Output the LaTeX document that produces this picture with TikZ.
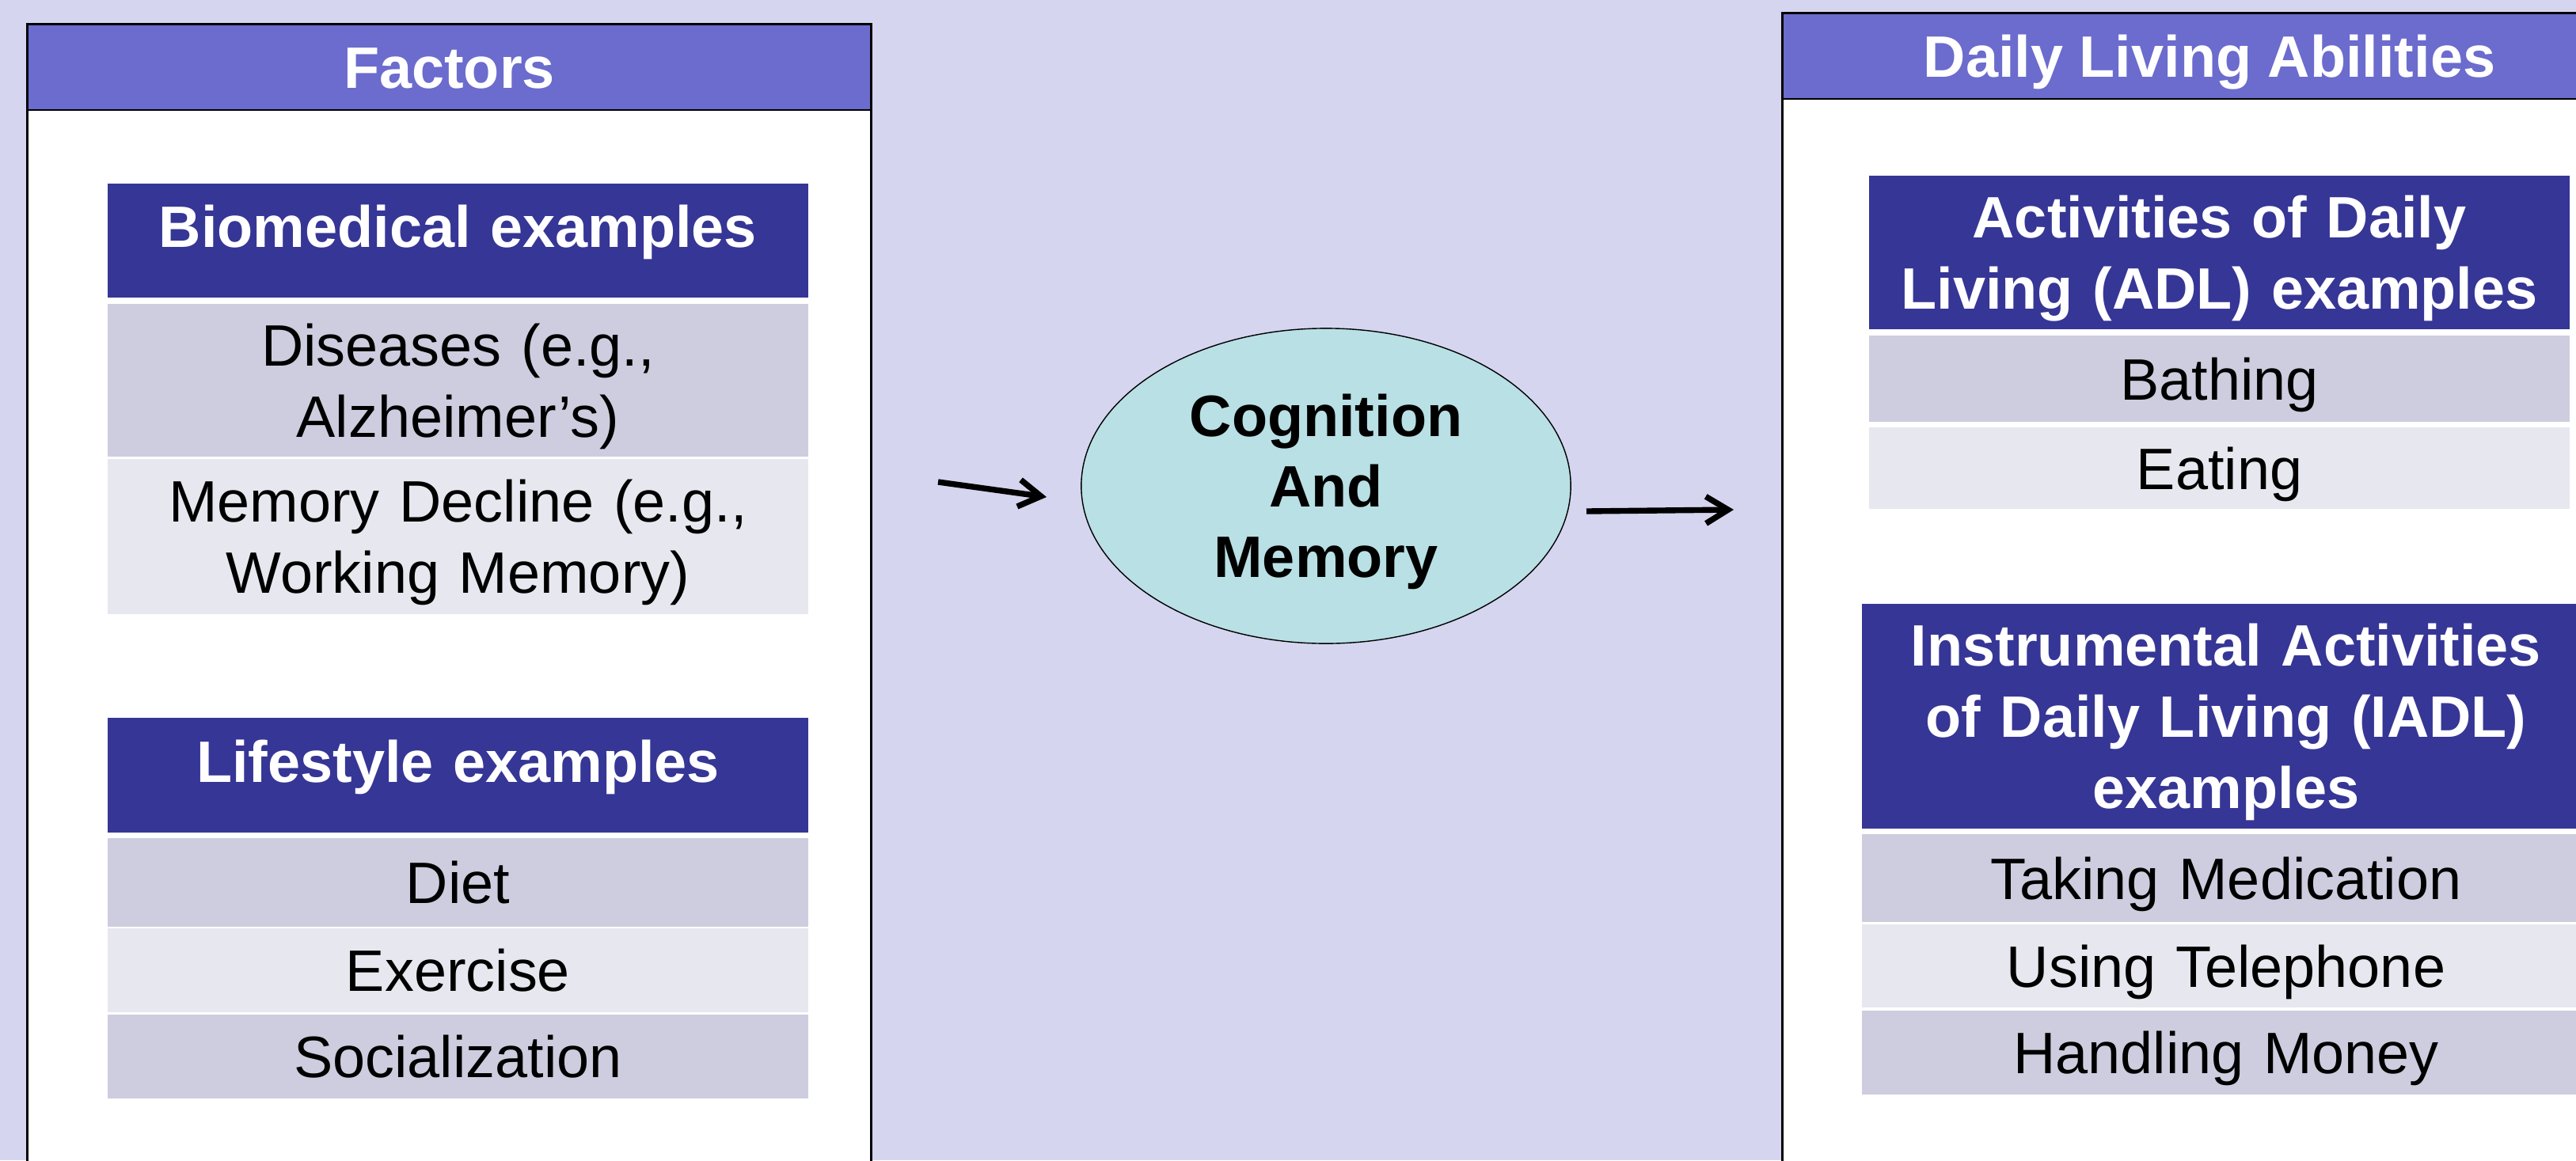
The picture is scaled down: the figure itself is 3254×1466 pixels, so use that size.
\documentclass[tikz,border=0pt]{standalone}
\usepackage{fontspec}
\setmainfont{Liberation Sans}
\usetikzlibrary{shapes.geometric,arrows.meta}
\definecolor{bgcol}{HTML}{D5D5F0}
\definecolor{panelcol}{HTML}{6B6CCD}
\definecolor{headcol}{HTML}{363696}
\definecolor{rowdark}{HTML}{CECDDF}
\definecolor{rowlight}{HTML}{E7E7EF}
\definecolor{ellcol}{HTML}{B9E0E4}
\begin{document}
\begin{tikzpicture}[x=0.01cm,y=-0.01cm,
	font=\fontsize{21}{25.6}\selectfont,
	panel/.style={draw,fill=white,line width=0.75pt,inner sep=0pt},
	panelhead/.style={draw,fill=panelcol,line width=0.75pt,minimum height=1.08cm,inner sep=0pt,text=white,font=\fontsize{21}{25.6}\selectfont\bfseries,text height=0.53cm,text depth=0pt},
	cell/.style={inner sep=0pt,text width=8.85cm,align=center,text height=0.53cm,text depth=0pt},
	head/.style={cell,fill=headcol,text=white,font=\fontsize{21}{25.6}\selectfont\bfseries},
	cellA/.style={cell,fill=rowdark},
	cellB/.style={cell,fill=rowlight},
	arrow/.style={-{Straight Barb[length=0.28cm,width=0.34cm]},line width=2.1pt}]
	\useasboundingbox (0,0) rectangle (3254,1466);
	\clip (0,0) rectangle (3254,1466);
	\fill[bgcol] (0,0) rectangle (3254,1466);
	% factors panel
	\node[panel,minimum width=10.65cm,minimum height=15.04cm] (factors) at (567.5,783) {};
	\node[panelhead,minimum width=10.65cm] (factorsTitle) at (567.5,85) {Factors};
	\node[head,text depth=0.36cm,minimum height=1.44cm] (bio) at (578.5,304) {Biomedical examples};
	\node[cellA,text depth=0.9cm,minimum height=1.93cm] (dis) at (578.5,480.5) {Diseases (e.g.,\\ Alzheimer’s)};
	\node[cellB,text depth=0.9cm,minimum height=1.96cm] (mem) at (578.5,678) {Memory Decline (e.g.,\\ Working Memory)};
	\node[head,text depth=0.36cm,minimum height=1.45cm] (life) at (578.5,979.5) {Lifestyle examples};
	\node[cellA,minimum height=1.12cm] (diet) at (578.5,1115) {Diet};
	\node[cellB,minimum height=1.06cm] (exer) at (578.5,1226) {Exercise};
	\node[cellA,minimum height=1.06cm] (soc) at (578.5,1335) {Socialization};
	% middle
	\node[ellipse,draw,fill=ellcol,line width=0.4pt,minimum width=6.18cm,minimum height=3.98cm,inner sep=0pt,
		text width=4cm,align=center,font=\fontsize{21}{25.3}\selectfont\bfseries,text height=0.53cm,text depth=1.78cm] (cog) at (1675,614) {Cognition\\ And\\ Memory};
	\coordinate (inStart) at (1185,609);
	\coordinate (inEnd) at (1322,628);
	\coordinate (outStart) at (2004,646);
	\coordinate (outEnd) at (2190,644);
	\draw[arrow] (inStart)--(inEnd);
	\draw[arrow] (outStart)--(outEnd);
	% abilities panel
	\node[panel,minimum width=10.78cm,minimum height=15.18cm] (abilities) at (2791,776) {};
	\node[panelhead,minimum width=10.78cm] (abilitiesTitle) at (2791,71) {Daily Living Abilities};
	\node[head,text depth=0.9cm,minimum height=1.94cm] (adl) at (2803.5,319) {Activities of Daily\\ Living (ADL) examples};
	\node[cellA,minimum height=1.09cm] (bath) at (2803.5,478.5) {Bathing};
	\node[cellB,minimum height=1.03cm] (eat) at (2803.5,591.5) {Eating};
	\node[head,text width=9.2cm,text depth=1.8cm,minimum height=2.84cm] (iadl) at (2812,905) {Instrumental Activities\\ of Daily Living (IADL)\\ examples};
	\node[cellA,text width=9.2cm,minimum height=1.11cm] (med) at (2812,1109.5) {Taking Medication};
	\node[cellB,text width=9.2cm,minimum height=1.05cm] (tel) at (2812,1220.5) {Using Telephone};
	\node[cellA,text width=9.2cm,minimum height=1.06cm] (money) at (2812,1330) {Handling Money};
\end{tikzpicture}
\end{document}
